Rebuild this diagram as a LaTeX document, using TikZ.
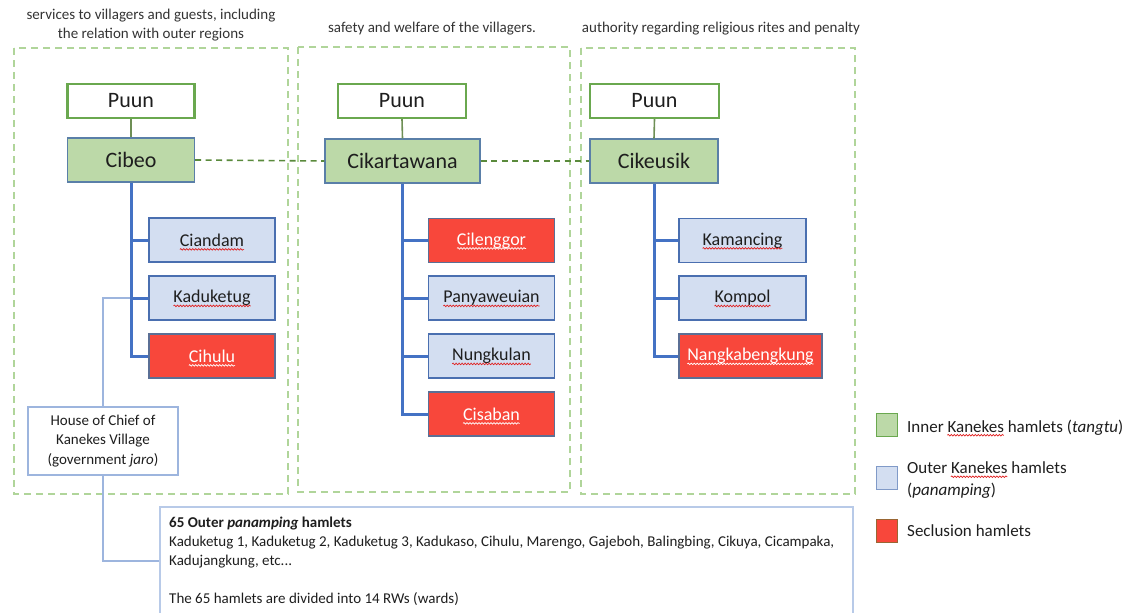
\documentclass[tikz,border=0pt]{standalone}
\usepackage{fontspec}
\setmainfont{Carlito}
\usetikzlibrary{decorations.pathmorphing}
\definecolor{frameg}{HTML}{B0D59A}
\definecolor{puunb}{HTML}{6AA84F}
\definecolor{innerf}{HTML}{BCD9A8}
\definecolor{innerb}{HTML}{5A7FA8}
\definecolor{outerf}{HTML}{D3DEF1}
\definecolor{outerb}{HTML}{4A6FB0}
\definecolor{seclf}{HTML}{F8473B}
\definecolor{seclb}{HTML}{5B6F95}
\definecolor{trunk}{HTML}{4472C4}
\definecolor{stem}{HTML}{6E8F55}
\definecolor{linkg}{HTML}{5A8A3C}
\definecolor{thinb}{HTML}{9DB5DE}
\definecolor{bigb}{HTML}{B8CAE8}
\definecolor{txt}{HTML}{1E1E1E}
\definecolor{headc}{HTML}{333333}
\definecolor{spell}{HTML}{E02020}
% centred spell-check squiggle under the text of a node
\newcommand\csquig[4]{%
  \begingroup\fontsize{#3}{#3}\selectfont\pgfmathsetmacro\sqtmp{width("#2")}\global\let\sqw\sqtmp\endgroup
  \draw[squig,draw=#4] ([yshift=-3.2pt,xshift={-0.5*\sqw pt}]#1.base) -- ++(\sqw,0);}
% squiggle under a word that follows #2 in a left-aligned text node
\newcommand\lsquig[5]{%
  \begingroup\fontsize{#4}{#4}\selectfont
    \pgfmathsetmacro\sqa{width("#2#3")}\pgfmathsetmacro\sqb{width("#3")}%
    \global\let\sqwa\sqa\global\let\sqw\sqb\endgroup
  \draw[squig,draw=#5] ([yshift=-3.2pt,xshift={(\sqwa-\sqw)*1pt}]#1.base west) -- ++(\sqw,0);}
\begin{document}
\begin{tikzpicture}[x=1pt,y=-1pt,
  every node/.style={text=txt},
  squig/.style={line width=0.7pt,decorate,decoration={snake,amplitude=0.8pt,segment length=3pt}},
  frame/.style={draw=frameg,line width=2.2pt,dash pattern=on 7pt off 5pt},
  puun/.style={draw=puunb,line width=2.4pt,fill=white,minimum height=34pt,font=\fontsize{22}{26}\selectfont},
  inner/.style={draw=innerb,line width=1.1pt,fill=innerf,minimum height=44pt,font=\fontsize{22}{26}\selectfont},
  outer/.style={draw=outerb,line width=1.2pt,fill=outerf,minimum height=44pt,minimum width=126pt,font=\fontsize{18}{21}\selectfont},
  secl/.style={draw=seclb,line width=1.2pt,fill=seclf,minimum height=44pt,minimum width=126pt,text=white,font=\fontsize{18}{21}\selectfont},
  stemline/.style={draw=stem,line width=1.6pt},
  trunkline/.style={draw=trunk,line width=3pt},
  linkline/.style={draw=linkg,line width=1.6pt,dash pattern=on 6pt off 4.5pt},
  thinline/.style={draw=thinb,line width=1.1pt},
  small/.style={font=\fontsize{15}{19}\selectfont,align=center,text=headc},
  bigtext/.style={font=\fontsize{15}{19}\selectfont,anchor=base west,inner sep=0pt},
  legtext/.style={font=\fontsize{17}{21}\selectfont,anchor=base west,inner sep=0pt},
  legsq/.style={minimum width=21pt,minimum height=23pt,inner sep=0pt,line width=1.2pt}
]
\useasboundingbox (0,0) rectangle (1133,613);
% group frames
\draw[frame] (14,48) rectangle (288,494);
\draw[frame] (298,47) rectangle (570,492);
\draw[frame] (581,48) rectangle (855,494);
% headings
\node[small] (h1) at (151,25.5) {services to villagers and guests, including\\the relation with outer regions};
\node[small] (h2) at (432,29) {safety and welfare of the villagers.};
\node[small] (h3) at (721,29) {authority regarding religious rites and penalty};
% puun
\node[puun,minimum width=127pt] (p1) at (131,101) {Puun};
\node[puun,minimum width=128pt] (p2) at (402,101) {Puun};
\node[puun,minimum width=129pt] (p3) at (654.5,101) {Puun};
% inner hamlets
\node[inner,minimum width=127pt] (cibeo) at (131,160) {Cibeo};
\node[inner,minimum width=155pt] (cikar) at (402.5,161) {Cikartawana};
\node[inner,minimum width=128pt] (cikeu) at (654,161) {Cikeusik};
% column 1
\node[outer] (ciandam) at (212,240) {Ciandam};
\node[outer] (kadu) at (212,298) {Kaduketug};
\node[secl] (cihulu) at (212,356) {Cihulu};
% column 2
\node[secl] (cileng) at (491.5,240.5) {Cilenggor};
\node[outer] (panya) at (491.5,298) {Panyaweuian};
\node[outer] (nungk) at (491.5,356) {Nungkulan};
\node[secl] (cisab) at (491.5,414) {Cisaban};
% column 3
\node[outer,minimum width=127pt] (kaman) at (742.5,240.5) {Kamancing};
\node[outer,minimum width=127pt] (kompol) at (742.5,298) {Kompol};
\node[secl,minimum width=143pt] (nangk) at (750.5,356) {Nangkabengkung};
% spell-check squiggles
\csquig{ciandam}{Ciandam}{18}{spell}
\csquig{kadu}{Kaduketug}{18}{spell}
\csquig{cihulu}{Cihulu}{18}{white}
\csquig{cileng}{Cilenggor}{18}{white}
\csquig{panya}{Panyaweuian}{18}{spell}
\csquig{nungk}{Nungkulan}{18}{spell}
\csquig{cisab}{Cisaban}{18}{white}
\csquig{kaman}{Kamancing}{18}{spell}
\csquig{kompol}{Kompol}{18}{spell}
\csquig{nangk}{Nangkabengkung}{18}{white}
% house of chief
\node[draw=thinb,line width=1.1pt,fill=white,minimum width=150pt,minimum height=68pt,align=center,
      font=\fontsize{15}{19.5}\selectfont] (house) at (103,441)
      {House of Chief of\\Kanekes Village\\(government \textit{jaro})};
% big box
\node[draw=bigb,line width=1.2pt,minimum width=693pt,minimum height=108pt,inner sep=0pt] (big) at (506.5,561) {};
\node[bigtext] (b1) at (169,527) {\textbf{65 Outer \textit{panamping} hamlets}};
\node[bigtext] (b2) at (169,546.5) {Kaduketug 1, Kaduketug 2, Kaduketug 3, Kadukaso, Cihulu, Marengo, Gajeboh, Balingbing, Cikuya, Cicampaka,};
\node[bigtext] (b3) at (169,565.5) {Kadujangkung, etc...};
\node[bigtext] (b4) at (169,603.5) {The 65 hamlets are divided into 14 RWs (wards)};
% thin connectors
\draw[thinline] (kadu.west) -| (house.north);
\draw[thinline] (house.south) |- (big.west);
% stems
\draw[stemline] (p1.south) -- (cibeo.north);
\draw[stemline] (p2.south) -- (cikar.north);
\draw[stemline] (p3.south) -- (cikeu.north);
% dashed links
\draw[linkline] (cibeo.east) -- (cikar.west);
\draw[linkline] (cikar.east) -- (cikeu.west);
% trunks
\draw[trunkline] (cibeo.south) |- (cihulu.west);
\draw[trunkline] (ciandam.west) -- (ciandam.west -| cibeo.south);
\draw[trunkline] (kadu.west) -- (kadu.west -| cibeo.south);
\draw[trunkline] (cikar.south) |- (cisab.west);
\draw[trunkline] (cileng.west) -- (cileng.west -| cikar.south);
\draw[trunkline] (panya.west) -- (panya.west -| cikar.south);
\draw[trunkline] (nungk.west) -- (nungk.west -| cikar.south);
\draw[trunkline] (cikeu.south) |- (nangk.west);
\draw[trunkline] (kaman.west) -- (kaman.west -| cikeu.south);
\draw[trunkline] (kompol.west) -- (kompol.west -| cikeu.south);
% legend
\node[legsq,draw=puunb,fill=innerf] (lg) at (887,425) {};
\node[legsq,draw=outerb!70,fill=outerf] (lb) at (887,478) {};
\node[legsq,draw=brown!80!black,fill=seclf] (lr) at (887,531) {};
\node[legtext] (tg) at (907,432) {Inner Kanekes hamlets (\textit{tangtu})};
\node[legtext] (tb1) at (907,473.5) {Outer Kanekes hamlets};
\node[legtext] (tb2) at (907,495.5) {(\textit{panamping})};
\node[legtext] (tr) at (907,536.5) {Seclusion hamlets};
\lsquig{tg}{Inner }{Kanekes}{17}{spell}
\lsquig{tb1}{Outer }{Kanekes}{17}{spell}
\end{tikzpicture}
\end{document}
